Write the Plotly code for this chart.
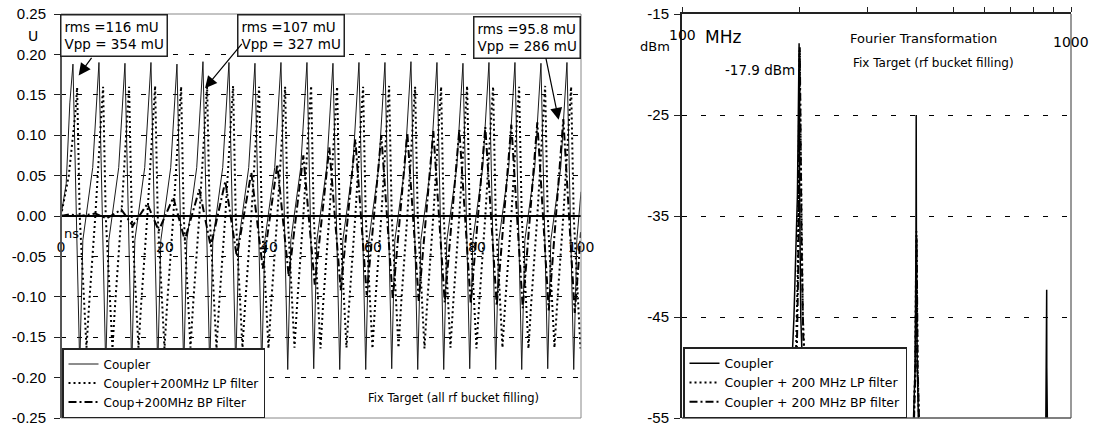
import plotly.graph_objects as go

# ---------------- data: left chart (time domain, ns / U) ----------------
coupler_t = [0.0, 1.0, 1.7,
             2.3, 3.6, 4.2, 6.1, 6.9,
             7.3, 8.6, 9.2, 11.1, 11.9,
             12.3, 13.6, 14.2, 16.1, 16.9,
             17.3, 18.6, 19.2, 21.1, 21.9,
             22.3, 23.6, 24.2, 26.1, 26.9,
             27.3, 28.6, 29.2, 31.1, 31.9,
             32.3, 33.6, 34.2, 36.1, 36.9,
             37.3, 38.6, 39.2, 41.1, 41.9,
             42.3, 43.6, 44.2, 46.1, 46.9,
             47.3, 48.6, 49.2, 51.1, 51.9,
             52.3, 53.6, 54.2, 56.1, 56.9,
             57.3, 58.6, 59.2, 61.1, 61.9,
             62.3, 63.6, 64.2, 66.1, 66.9,
             67.3, 68.6, 69.2, 71.1, 71.9,
             72.3, 73.6, 74.2, 76.1, 76.9,
             77.3, 78.6, 79.2, 81.1, 81.9,
             82.3, 83.6, 84.2, 86.1, 86.9,
             87.3, 88.6, 89.2, 91.1, 91.9,
             92.3, 93.6, 94.2, 96.1, 96.9,
             97.3, 98.6, 99.2, 100.0]
coupler_v = [0.0, 0.04, 0.14,
             0.188, -0.186, -0.03, 0.06, 0.15,
             0.190, -0.188, -0.03, 0.06, 0.15,
             0.189, -0.190, -0.03, 0.06, 0.15,
             0.190, -0.189, -0.03, 0.06, 0.15,
             0.188, -0.190, -0.03, 0.06, 0.15,
             0.191, -0.190, -0.03, 0.06, 0.15,
             0.190, -0.189, -0.03, 0.06, 0.15,
             0.189, -0.190, -0.03, 0.06, 0.15,
             0.190, -0.190, -0.03, 0.06, 0.15,
             0.190, -0.189, -0.03, 0.06, 0.15,
             0.189, -0.190, -0.03, 0.06, 0.15,
             0.190, -0.190, -0.03, 0.06, 0.15,
             0.190, -0.189, -0.03, 0.06, 0.15,
             0.191, -0.190, -0.03, 0.06, 0.15,
             0.190, -0.190, -0.03, 0.06, 0.15,
             0.189, -0.189, -0.03, 0.06, 0.15,
             0.190, -0.190, -0.03, 0.06, 0.15,
             0.190, -0.190, -0.03, 0.06, 0.15,
             0.189, -0.189, -0.03, 0.06, 0.15,
             0.190, -0.190, -0.03, 0.03]

lp_t = [0.0, 1.5, 2.8,
        3.1, 3.6, 4.9, 5.4, 6.6, 7.8,
        8.1, 8.6, 9.9, 10.4, 11.6, 12.8,
        13.1, 13.6, 14.9, 15.4, 16.6, 17.8,
        18.1, 18.6, 19.9, 20.4, 21.6, 22.8,
        23.1, 23.6, 24.9, 25.4, 26.6, 27.8,
        28.1, 28.6, 29.9, 30.4, 31.6, 32.8,
        33.1, 33.6, 34.9, 35.4, 36.6, 37.8,
        38.1, 38.6, 39.9, 40.4, 41.6, 42.8,
        43.1, 43.6, 44.9, 45.4, 46.6, 47.8,
        48.1, 48.6, 49.9, 50.4, 51.6, 52.8,
        53.1, 53.6, 54.9, 55.4, 56.6, 57.8,
        58.1, 58.6, 59.9, 60.4, 61.6, 62.8,
        63.1, 63.6, 64.9, 65.4, 66.6, 67.8,
        68.1, 68.6, 69.9, 70.4, 71.6, 72.8,
        73.1, 73.6, 74.9, 75.4, 76.6, 77.8,
        78.1, 78.6, 79.9, 80.4, 81.6, 82.8,
        83.1, 83.6, 84.9, 85.4, 86.6, 87.8,
        88.1, 88.6, 89.9, 90.4, 91.6, 92.8,
        93.1, 93.6, 94.9, 95.4, 96.6, 97.8,
        98.1, 98.6, 99.9]
lp_v = [0.0, 0.05, 0.13,
        0.159, 0.0, -0.163, -0.11, 0.0, 0.13,
        0.160, 0.0, -0.164, -0.11, 0.0, 0.13,
        0.160, 0.0, -0.163, -0.11, 0.0, 0.13,
        0.161, 0.0, -0.164, -0.11, 0.0, 0.13,
        0.160, 0.0, -0.163, -0.11, 0.0, 0.13,
        0.160, 0.0, -0.164, -0.11, 0.0, 0.13,
        0.161, 0.0, -0.163, -0.11, 0.0, 0.13,
        0.160, 0.0, -0.164, -0.11, 0.0, 0.13,
        0.160, 0.0, -0.163, -0.11, 0.0, 0.13,
        0.161, 0.0, -0.164, -0.11, 0.0, 0.13,
        0.160, 0.0, -0.163, -0.11, 0.0, 0.13,
        0.160, 0.0, -0.164, -0.11, 0.0, 0.13,
        0.161, 0.0, -0.163, -0.11, 0.0, 0.13,
        0.160, 0.0, -0.164, -0.11, 0.0, 0.13,
        0.160, 0.0, -0.163, -0.11, 0.0, 0.13,
        0.161, 0.0, -0.164, -0.11, 0.0, 0.13,
        0.160, 0.0, -0.163, -0.11, 0.0, 0.13,
        0.160, 0.0, -0.164, -0.11, 0.0, 0.13,
        0.161, 0.0, -0.163, -0.11, 0.0, 0.13,
        0.160, 0.0, -0.164]

bp_peak_t = [1.6, 6.6, 11.6, 16.6, 21.6, 26.6, 31.6, 36.6, 41.6, 46.6,
             51.6, 56.6, 61.6, 66.6, 71.6, 76.6, 81.6, 86.6, 91.6, 96.6]
bp_peak_v = [0.002, 0.003, 0.008, 0.015, 0.023, 0.033, 0.043, 0.054, 0.064, 0.075,
             0.085, 0.095, 0.100, 0.103, 0.105, 0.107, 0.110, 0.113, 0.116, 0.120]
bp_trough_t = [3.8, 8.8, 13.8, 18.8, 23.8, 28.8, 33.8, 38.8, 43.8, 48.8,
               53.8, 58.8, 63.8, 68.8, 73.8, 78.8, 83.8, 88.8, 93.8, 98.8]
bp_trough_v = [0.000, -0.003, -0.012, -0.018, -0.030, -0.038, -0.050, -0.065, -0.075, -0.085,
               -0.092, -0.098, -0.102, -0.105, -0.107, -0.109, -0.111, -0.114, -0.117, -0.120]
bp_start = (0.0, 0.0)
bp_end = (100.0, -0.02)

left_xtick_vals = [0, 20, 40, 60, 80, 100]
left_xtick_text = ["0", "20", "40", "60", "80", "100"]
left_ytick_vals = [-0.25, -0.20, -0.15, -0.10, -0.05, 0.0, 0.05, 0.10, 0.15, 0.20, 0.25]
left_ytick_text = ["-0.25", "-0.20", "-0.15", "-0.10", "-0.05", "0.00",
                   "0.05", "0.10", "0.15", "0.20", "0.25"]

# ---------------- data: right chart (spectrum, MHz / dBm) ----------------
spec_coup_f = [100, 185, 191.5, 194, 198, 200, 200.6, 202, 204, 210,
               390, 397.5, 399.5, 400, 400.5, 402.5, 408,
               860, 865.5, 866, 866.5, 872, 1000]
spec_coup_db = [-60, -60, -50, -45, -33, -17.9, -33, -45, -50, -60,
                -60, -50, -37, -25, -37, -50, -60,
                -60, -50, -42.3, -50, -60, -60]
spec_lp_f = [100, 190, 196, 198.5, 200.5, 202.5, 204.5, 207, 212,
             392, 397.5, 400.5, 403, 410, 1000]
spec_lp_db = [-60, -60, -50, -40, -18.6, -35, -45, -50, -60,
              -60, -50, -36.5, -50, -60, -60]
spec_bp_f = [100, 191, 197, 199, 200.8, 203, 205, 207.5, 213,
             392, 398, 401, 403.5, 410, 1000]
spec_bp_db = [-60, -60, -50, -40, -18.3, -38, -47, -50, -60,
              -60, -50, -37.2, -50, -60, -60]

right_xtick_vals = [100, 200, 300, 400, 500, 600, 700, 800, 900, 1000]
right_xlabel_vals = [100, 1000]
right_xlabel_text = ["100", "1000"]
right_ytick_vals = [-55, -45, -35, -25, -15]
right_ytick_text = ["-55", "-45", "-35", "-25", "-15"]

series_names_left = ["Coupler", "Coupler+200MHz LP filter", "Coup+200MHz BP Filter"]
series_names_right = ["Coupler", "Coupler + 200 MHz LP filter", "Coupler + 200 MHz BP filter"]

# ---------------- figure ----------------
W, H = 1093, 426
L1, R1 = 61, 581
L2, R2 = 682, 1071
TOP, BOT = 14, 418


def fx(px):
    return px / W


def fy(py):
    return 1 - py / H


TXT = "DejaVu Sans"
NUM = "Liberation Sans"

bp_t = [bp_start[0]]
bp_v = [bp_start[1]]
for pt, pv, tt, tv in zip(bp_peak_t, bp_peak_v, bp_trough_t, bp_trough_v):
    bp_t += [pt, tt]
    bp_v += [pv, tv]
bp_t.append(bp_end[0])
bp_v.append(bp_end[1])

solid = dict(color="#1a1a1a", width=1)
dotted = dict(color="black", width=2, dash="2px,3px")
dashdot = dict(color="black", width=2, dash="8px,3px,2px,3px")

fig = go.Figure()
fig.add_trace(go.Scatter(x=coupler_t, y=coupler_v, mode="lines", line=solid,
                         name=series_names_left[0], xaxis="x", yaxis="y", legend="legend"))
fig.add_trace(go.Scatter(x=lp_t, y=lp_v, mode="lines", line=dotted,
                         name=series_names_left[1], xaxis="x", yaxis="y", legend="legend"))
fig.add_trace(go.Scatter(x=bp_t, y=bp_v, mode="lines", line=dashdot,
                         name=series_names_left[2], xaxis="x", yaxis="y", legend="legend"))

fig.add_trace(go.Scatter(x=spec_coup_f, y=spec_coup_db, mode="lines",
                         line=dict(color="black", width=1.5),
                         name=series_names_right[0], xaxis="x2", yaxis="y2", legend="legend2"))
fig.add_trace(go.Scatter(x=spec_lp_f, y=spec_lp_db, mode="lines", line=dotted,
                         name=series_names_right[1], xaxis="x2", yaxis="y2", legend="legend2"))
fig.add_trace(go.Scatter(x=spec_bp_f, y=spec_bp_db, mode="lines", line=dashdot,
                         name=series_names_right[2], xaxis="x2", yaxis="y2", legend="legend2"))

ydom = [fy(BOT), fy(TOP)]
zero_pos = fy((TOP + BOT) / 2)

fig.update_layout(
    width=W, height=H, autosize=False,
    margin=dict(l=0, r=0, t=0, b=0, pad=0, autoexpand=False),
    paper_bgcolor="white", plot_bgcolor="white",
    font=dict(family=TXT, size=13, color="black"),
    hovermode=False,
    xaxis=dict(domain=[fx(L1), fx(R1)], range=[0, 100], anchor="free", position=zero_pos,
               automargin=False, ticklabeloverflow="allow",
               tickvals=left_xtick_vals, ticktext=left_xtick_text,
               showline=True, linecolor="black", linewidth=1, ticks="",
               showgrid=False, zeroline=False, ticklabelstandoff=18,
               tickfont=dict(family=TXT, size=14)),
    yaxis=dict(domain=ydom, range=[-0.25, 0.25], anchor="free", position=fx(L1),
               automargin=False, ticklabeloverflow="allow",
               tickvals=left_ytick_vals, ticktext=left_ytick_text,
               showline=True, linecolor="#222", linewidth=2,
               ticks="outside", ticklen=6, tickcolor="#222", ticklabelstandoff=5,
               showgrid=True, gridcolor="black", gridwidth=1, griddash="5px,11px",
               zeroline=True, zerolinecolor="black", zerolinewidth=1.5,
               tickfont=dict(family=NUM, size=15)),
    xaxis2=dict(domain=[fx(L2), fx(R2)], type="log", range=[2, 3], side="top", anchor="y2",
                automargin=False,
                tickmode="array", tickvals=right_xtick_vals, showticklabels=False,
                showline=True, linecolor="#222", linewidth=2, mirror=False,
                ticks="outside", ticklen=5, tickwidth=1, tickcolor="#222",
                showgrid=False, zeroline=False),
    yaxis2=dict(domain=ydom, range=[-55, -15], anchor="x2",
                automargin=False, ticklabeloverflow="allow",
                tickvals=right_ytick_vals, ticktext=right_ytick_text,
                showline=True, linecolor="#222", linewidth=2,
                ticks="outside", ticklen=6, tickcolor="#222", ticklabelstandoff=2,
                showgrid=True, gridcolor="black", gridwidth=1, griddash="5px,14px",
                zeroline=False, tickfont=dict(family=NUM, size=15)),
    legend=dict(x=fx(62), y=fy(418), xanchor="left", yanchor="bottom",
                bgcolor="white", bordercolor="#222", borderwidth=1.5,
                font=dict(family=TXT, size=12), tracegroupgap=0),
    legend2=dict(x=fx(683), y=fy(418), xanchor="left", yanchor="bottom",
                 bgcolor="white", bordercolor="#222", borderwidth=1.5,
                 font=dict(family=TXT, size=12.5), tracegroupgap=0),
    showlegend=True,
)

# plot-area frames
fig.add_shape(type="rect", xref="x domain", yref="y domain", x0=0, x1=1, y0=0, y1=1,
              line=dict(color="#888", width=1), layer="above")
fig.add_shape(type="line", xref="x2 domain", yref="y2 domain", x0=1, x1=1, y0=0, y1=1,
              line=dict(color="#777", width=1.5), layer="above")
fig.add_shape(type="line", xref="x2 domain", yref="y2 domain", x0=0, x1=1, y0=0, y1=0,
              line=dict(color="#555", width=1.5), layer="above")

annos = []


def box(px, py, text):
    annos.append(dict(xref="paper", yref="paper", x=fx(px), y=fy(py), xanchor="left",
                      yanchor="top", text=text, showarrow=False, align="left",
                      bgcolor="white", bordercolor="#222", borderwidth=1.5, borderpad=3,
                      font=dict(family=TXT, size=13.5)))


def label(px, py, text, size=13, xanchor="center"):
    annos.append(dict(xref="paper", yref="paper", x=fx(px), y=fy(py), xanchor=xanchor,
                      yanchor="middle", text=text, showarrow=False,
                      font=dict(family=TXT, size=size)))


def arrow(t, v, ax, ay):
    annos.append(dict(xref="x", yref="y", x=t, y=v, ax=ax, ay=ay, text="",
                      showarrow=True, arrowhead=2, arrowsize=2, arrowwidth=1.2,
                      arrowcolor="black"))


box(60, 14, "rms =116 mU<br>Vpp = 354 mU")
box(237, 14, "rms =107 mU<br>Vpp = 327 mU")
box(473, 16, "rms =95.8 mU<br>Vpp = 286 mU")
arrow(3.4, 0.174, 14, -19)
arrow(27.7, 0.158, 38, -46)
arrow(95.7, 0.119, -13, -63)

label(33, 36, "U", 14)
label(71, 233, "ns", 13)
label(453, 398, "Fix Target (all rf bucket filling)", 11.5)

# top-axis tick labels of the log axis (drawn inside the plot, as in the original)
label_rows = [35, 42]
for fv, ft, py in zip(right_xlabel_vals, right_xlabel_text, label_rows):
    annos.append(dict(xref="x2", yref="paper", x=2 if fv == 100 else 3, y=fy(py),
                      xanchor="center", yanchor="middle", text=ft, showarrow=False,
                      font=dict(family=TXT, size=14)))

label(655, 46, "dBm", 13)
label(723, 37, "MHz", 17)
label(797, 70, "-17.9 dBm", 13.5, xanchor="right")
label(923, 39, "Fourier Transformation", 13)
label(933, 63, "Fix Target (rf bucket filling)", 12)

fig.update_layout(annotations=annos)

# remove the browser's default 8px page margin so the figure fills the window exactly
fig.write_html("out.html",
               config={"displayModeBar": False},
               post_script="document.body.style.margin='0px';document.body.style.overflow='hidden';")
